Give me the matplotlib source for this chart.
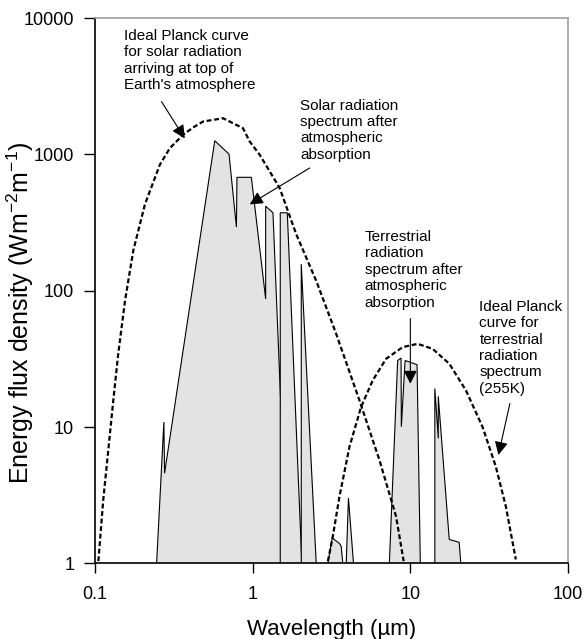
import matplotlib
matplotlib.use("Agg")
import matplotlib.pyplot as plt

plt.rcParams["font.family"] = ["Liberation Sans", "DejaVu Sans"]
plt.rcParams["mathtext.fontset"] = "custom"
plt.rcParams["mathtext.rm"] = "Liberation Sans"
plt.rcParams["mathtext.it"] = "Liberation Sans:italic"

# ---- data (wavelength in um, flux in W m-2 m-1) ----
# ideal Planck curve, sun (top of atmosphere)
solar_planck_wl = [0.105, 0.1128, 0.1214, 0.1306, 0.1404, 0.155, 0.1747, 0.2073,
                   0.2578, 0.2985, 0.362, 0.4188, 0.4845, 0.6486, 0.868,
                   0.957, 1.107, 1.482, 1.891, 2.531, 3.386, 4.756, 6.366, 8.12, 9.07]
solar_planck_flux = [1.04, 2.93, 6.79, 15.7, 34.5, 84.5, 196, 430,
                     841, 1112, 1393, 1574, 1741, 1841, 1556,
                     1244, 995, 568, 259, 118, 48.3, 15.7, 5.74, 2.21, 1.04]

# ideal Planck curve, earth (255K)
terr_planck_wl = [3.0, 3.223, 3.553, 4.111, 4.875, 5.772, 7.019, 8.94,
                  11.12, 13.84, 17.65, 22.52, 28.68, 34.86, 40.34, 46.67]
terr_planck_flux = [1.04, 1.58, 3.10, 7.18, 14.1, 22.0, 31.7, 38.6,
                    40.8, 37.5, 29.2, 18.6, 10.05, 5.13, 2.62, 1.07]

# spectra after atmospheric absorption, one list pair per transmission band
band_solar_wl = [0.2458, 0.2734, 0.2761, 0.5747, 0.7079, 0.7885, 0.795, 0.981,
                 1.209, 1.209, 1.345, 1.658]
band_solar_flux = [1, 10.9, 4.59, 1259, 1005, 293, 679, 679,
                   87, 417, 373, 1]
band_nir1_wl = [1.496, 1.496, 1.658, 2.051]
band_nir1_flux = [1, 373, 373, 1]
band_nir2_wl = [2.033, 2.033, 2.53]
band_nir2_flux = [1, 156.7, 1]
band_mir1_wl = [3.0, 3.195, 3.553, 3.64, 3.73]
band_mir1_flux = [1, 1.54, 1.40, 1.34, 1]
band_mir2_wl = [3.92, 4.05, 4.36]
band_mir2_flux = [1, 3.02, 1]
band_window_wl = [7.36, 8.31, 8.73, 8.77, 9.26, 11.03, 11.57]
band_window_flux = [1, 30.8, 32.1, 10.05, 30.8, 28.7, 1]
band_far_wl = [14.3, 14.3, 15.04, 15.04, 17.65, 20.4, 20.9]
band_far_flux = [1, 19.2, 8.27, 16.8, 1.50, 1.43, 1]

bands = [(band_solar_wl, band_solar_flux), (band_nir1_wl, band_nir1_flux),
         (band_nir2_wl, band_nir2_flux), (band_mir1_wl, band_mir1_flux),
         (band_mir2_wl, band_mir2_flux), (band_window_wl, band_window_flux),
         (band_far_wl, band_far_flux)]

x_ticks = [0.1, 1, 10, 100]
x_tick_labels = ["0.1", "1", "10", "100"]
y_ticks = [1, 10, 100, 1000, 10000]
y_tick_labels = ["1", "10", "100", "1000", "10000"]

fig = plt.figure(figsize=(5.84, 6.39), dpi=100)
ax = fig.add_axes([0.1627, 0.1182, 0.8099, 0.8536])
ax.set_xscale("log")
ax.set_yscale("log")
ax.set_xlim(0.1, 100)
ax.set_ylim(1, 10000)

for wl, fl in bands:
    ax.fill(wl, fl, facecolor="#e3e3e3", edgecolor="black", lw=0.8, zorder=2)

dash = (0, (2.2, 1.2))
ax.plot(solar_planck_wl, solar_planck_flux, color="black", lw=1.6, ls=dash, zorder=3)
ax.plot(terr_planck_wl, terr_planck_flux, color="black", lw=1.6, ls=dash, zorder=3)

# ---- labels with arrows ----
txt = dict(fontsize=11, va="top", ha="left", linespacing=1.22, zorder=5)
ax.text(0.1526, 8318, "Ideal Planck curve\nfor solar radiation\narriving at top of\n"
        "Earth's atmosphere", **txt)
ax.text(2.01, 2564, "Solar radiation\nspectrum after\natmospheric\nabsorption", **txt)
ax.text(5.12, 279, "Terrestrial\nradiation\nspectrum after\natmospheric\nabsorption", **txt)
ax.text(27.4, 86, "Ideal Planck\ncurve for\nterrestrial\nradiation\nspectrum\n(255K)", **txt)

arw = dict(arrowstyle="-|>", color="black", lw=0.8, mutation_scale=20,
           shrinkA=0, shrinkB=0)
for tail, tip in [((0.264, 2438), (0.371, 1309)),
                  ((2.30, 795), (0.957, 430)),
                  ((10, 62.5), (10, 20.8)),
                  ((42.8, 14.9), (36.2, 6.25))]:
    ax.annotate("", xy=tip, xytext=tail, arrowprops=arw, zorder=6)

# ---- axes ----
ax.xaxis.set_minor_locator(matplotlib.ticker.NullLocator())
ax.yaxis.set_minor_locator(matplotlib.ticker.NullLocator())
ax.set_xticks(x_ticks, x_tick_labels)
ax.set_yticks(y_ticks, y_tick_labels)
ax.tick_params(axis="x", direction="out", length=7, width=1, labelsize=13, pad=9)
ax.tick_params(axis="y", direction="out", length=8, width=1, labelsize=13, pad=7)
for s in ["top", "right"]:
    ax.spines[s].set_color("#a0a0a0")
    ax.spines[s].set_linewidth(1.2)
for s in ["left", "bottom"]:
    ax.spines[s].set_linewidth(1.2)

ax.set_xlabel("Wavelength (µm)", fontsize=16, labelpad=12)
ax.set_ylabel(r"Energy flux density (Wm$^{-2}$m$^{-1}$)", fontsize=18)
ax.yaxis.set_label_coords(-0.125, 0.46)

fig.savefig("out.png", dpi=100)
